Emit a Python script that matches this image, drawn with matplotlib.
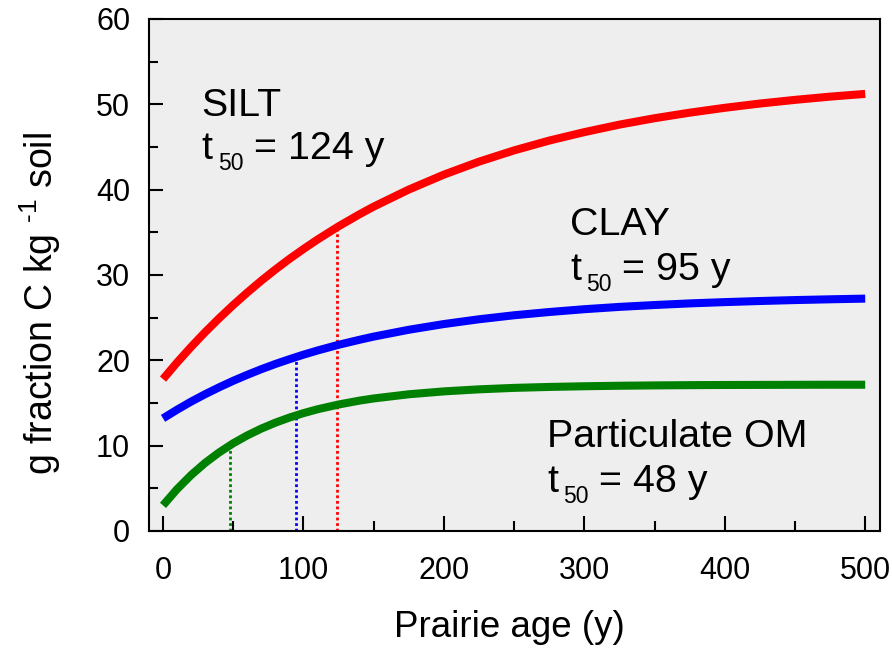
import numpy as np
import matplotlib.pyplot as plt

plt.rcParams['font.family'] = ['Liberation Sans', 'DejaVu Sans']
plt.rcParams['mathtext.fontset'] = 'custom'
plt.rcParams['mathtext.rm'] = 'Liberation Sans'
plt.rcParams['mathtext.it'] = 'Liberation Sans'
plt.rcParams['mathtext.bf'] = 'Liberation Sans:bold'

# Prairie age (y) and fraction C (g kg-1 soil)
age = [0, 10, 20, 30, 40, 50, 60, 70, 80, 90, 100, 110, 125, 140, 150,
       175, 200, 225, 250, 275, 300, 325, 350, 375, 400, 425, 450, 475, 500]
silt = [17.8, 19.74, 21.57, 23.3, 24.93, 26.48, 27.94, 29.33, 30.64, 31.88,
        33.04, 34.15, 35.7, 37.12, 38.01, 40.01, 41.76, 43.28, 44.6, 45.75,
        46.74, 47.62, 48.37, 49.02, 49.59, 50.09, 50.52, 50.9, 51.22]
clay = [13.2, 14.21, 15.16, 16.03, 16.84, 17.6, 18.3, 18.96, 19.57, 20.13,
        20.66, 21.15, 21.82, 22.41, 22.78, 23.58, 24.25, 24.81, 25.28, 25.66,
        25.99, 26.26, 26.48, 26.67, 26.82, 26.95, 27.06, 27.15, 27.23]
pom = [3.0, 4.9, 6.55, 7.98, 9.21, 10.28, 11.2, 12.0, 12.69, 13.29,
       13.81, 14.26, 14.82, 15.28, 15.53, 16.02, 16.36, 16.6, 16.77, 16.88,
       16.96, 17.02, 17.06, 17.09, 17.11, 17.12, 17.13, 17.14, 17.14]

# half-saturation times and curve values there
t50 = {'silt': 124, 'clay': 95, 'pom': 48}
t50_y = {'silt': 35.6, 'clay': 20.3, 'pom': 10.1}

colors = {'silt': '#ff0000', 'clay': '#0000ff', 'pom': '#008000'}

fig = plt.figure(figsize=(8.92, 6.52), dpi=100)
ax = fig.add_axes([0.167, 0.1856, 0.8195, 0.7853])
ax.set_facecolor('#eeeeee')

for key, vals in [('silt', silt), ('clay', clay), ('pom', pom)]:
    ax.plot(age, vals, color=colors[key], lw=5.8, solid_capstyle='butt',
            solid_joinstyle='round', zorder=3)
    ax.plot([t50[key], t50[key]], [0, t50_y[key]], color=colors[key],
            lw=2, linestyle=(0, (1, 1)), zorder=2)

fs = 28.4


def t50_label(x, y, value):
    # "t", lowered smaller "50", then "= value y"
    ax.text(x, y, 't', fontsize=fs, va='baseline')
    ax.annotate('50', xy=(x, y), xytext=(11.5, -8), textcoords='offset points',
                fontsize=16.5, va='baseline')
    ax.annotate('= %d y' % value, xy=(x, y), xytext=(37.5, 0),
                textcoords='offset points', fontsize=fs, va='baseline')


ax.text(27.5, 48.6, 'SILT', fontsize=fs, va='baseline')
t50_label(27.5, 43.6, 124)
ax.text(290, 34.7, 'CLAY', fontsize=fs, va='baseline')
t50_label(290, 29.4, 95)
ax.text(273.5, 9.9, 'Particulate OM', fontsize=fs, va='baseline')
t50_label(273.5, 4.6, 48)

ax.set_xlim(-10, 510.5)
ax.set_ylim(0, 60)
ax.set_xticks([0, 100, 200, 300, 400, 500])
ax.set_xticks([50, 150, 250, 350, 450], minor=True)
ax.set_yticks([0, 10, 20, 30, 40, 50, 60])
ax.set_yticks(np.arange(5, 60, 10), minor=True)

ax.tick_params(axis='both', which='both', direction='in', width=1.5,
               labelsize=22, top=False, right=False)
ax.tick_params(axis='x', which='major', length=11, pad=18)
ax.tick_params(axis='x', which='minor', length=7)
ax.tick_params(axis='y', which='major', length=10, pad=13.5)
ax.tick_params(axis='y', which='minor', length=6.5)
for s in ax.spines.values():
    s.set_linewidth(1.5)

ax.set_xlabel('Prairie age (y)', fontsize=26.5)
ax.xaxis.set_label_coords(0.4925, -0.155)
ax.set_ylabel(r'g fraction C kg $^{\text{-}1}$ soil', fontsize=27)
ax.yaxis.set_label_coords(-0.118, 0.445)

fig.savefig('out.png', dpi=100)
